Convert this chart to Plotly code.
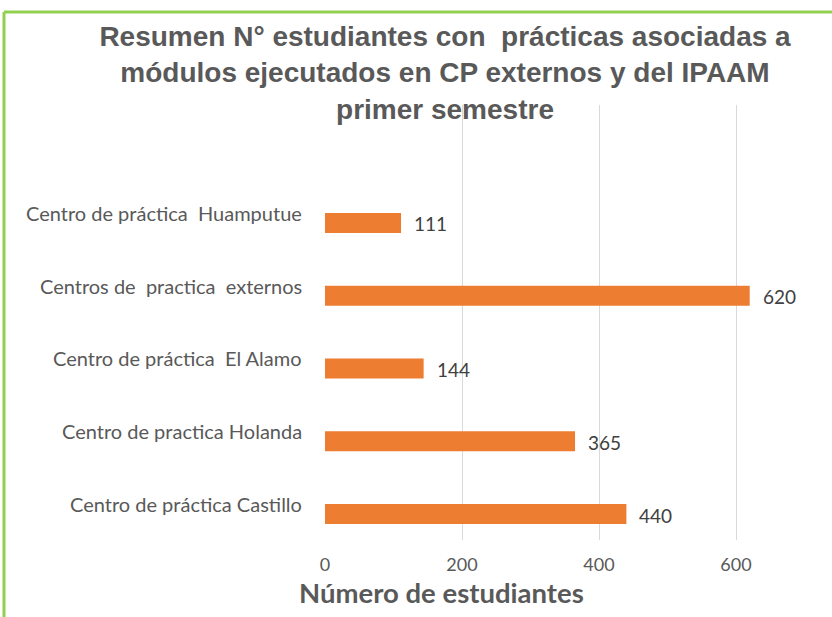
import plotly.graph_objects as go

categories = [
    "Centro de práctica Castillo",
    "Centro de practica Holanda",
    "Centro de práctica  El Alamo",
    "Centros de  practica  externos",
    "Centro de práctica  Huamputue",
]
values = [440, 365, 144, 620, 111]
x_ticks = [0, 200, 400, 600]

title_text = ("Resumen N° estudiantes con  prácticas asociadas a<br>"
              "módulos ejecutados en CP externos y del IPAAM<br>primer semestre")
x_title = "Número de estudiantes"

W, H = 832, 617
L, R, T, B = 325, 0, 105, 77
pw, ph = W - L - R, H - T - B

fig = go.Figure()
fig.add_trace(go.Bar(
    y=list(range(len(categories))), x=values, orientation="h",
    marker=dict(color="#ED7D31", line=dict(width=0)),
    width=0.275,
))

for i, c in enumerate(categories):
    fig.add_annotation(x=0, xref="paper", y=i, yref="y", text=c, showarrow=False,
                       xanchor="right", yanchor="middle", xshift=-21, yshift=10,
                       font=dict(family="Lato", size=20, color="#595959"))

for i, v in enumerate(values):
    fig.add_annotation(x=v, xref="x", y=i, yref="y", text=str(v), showarrow=False,
                       xanchor="left", yanchor="middle", xshift=11, yshift=-1,
                       font=dict(family="Lato", size=19, color="#404040"))

fig.add_annotation(x=(441 - L) / pw, xref="paper", y=(H - B - 592) / ph, yref="paper",
                   text="<b>" + x_title + "</b>", showarrow=False,
                   xanchor="center", yanchor="middle",
                   font=dict(family="Lato", size=27.5, color="#595959"))

fig.update_layout(
    width=W, height=H,
    margin=dict(l=L, r=R, t=T, b=B, pad=0),
    paper_bgcolor="white", plot_bgcolor="white",
    showlegend=False,
    title=dict(text=title_text, x=445 / W, xanchor="center", xref="container",
               y=1 - 46 / H, yanchor="top",
               font=dict(family="Liberation Sans", size=28, color="#595959", weight="bold")),
    xaxis=dict(range=[0, pw / 0.685], tickvals=x_ticks,
               showgrid=True, gridcolor="#D9D9D9", gridwidth=1, zeroline=False,
               showline=False, ticks="outside", ticklen=8, tickcolor="rgba(0,0,0,0)",
               tickfont=dict(family="Lato", size=18, color="#595959")),
    yaxis=dict(range=[-0.357, 5.62], showticklabels=False, showgrid=False, zeroline=False,
               showline=False),
)

# green frame (left and top edges)
fx0 = (4 - L) / pw
fy1 = (H - B - 12) / ph
fig.add_shape(type="line", xref="paper", yref="paper", x0=fx0, x1=fx0, y0=(H - B - H - 5) / ph, y1=fy1,
              line=dict(color="#92D050", width=3))
fig.add_shape(type="line", xref="paper", yref="paper", x0=fx0, x1=(W - L) / pw + 0.01, y0=fy1, y1=fy1,
              line=dict(color="#92D050", width=3))

fig.write_html("out.html", config={"displayModeBar": False},
               post_script="document.body.style.margin='0px';")
